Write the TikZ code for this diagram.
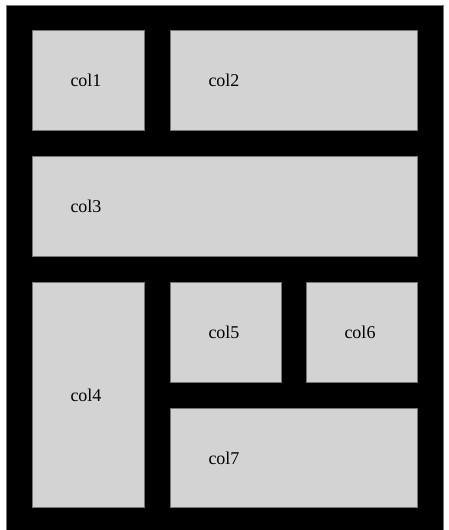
\documentclass[tikz,border=0pt]{standalone}
\usepackage{fontspec}
\setmainfont{Liberation Serif}
\definecolor{cell}{HTML}{D3D3D3}
\definecolor{rim}{HTML}{767676}
\tikzset{cellbox/.style={draw=rim,line width=1pt,fill=cell,inner xsep=38pt,
    inner ysep=0pt,align=left,anchor=north west}}

\begin{document}
\begin{tikzpicture}[x=1pt,y=-1pt,font=\fontsize{18}{20}\selectfont]
  \fill[white] (0,0) rectangle (448,530);
  \useasboundingbox (0,0) rectangle (448,530);
  \draw[draw=rim,line width=1pt,fill=black] (6,5) rectangle (443,534);
  % top row
  \node[cellbox,text width=36pt,minimum height=100pt] (col1) at (32,30) {col1};
  \node[cellbox,text width=171pt,minimum height=100pt] (col2) at (170,30) {col2};
  % middle row
  \node[cellbox,text width=309pt,minimum height=100pt] (col3) at (32,156) {col3};
  % bottom block
  \node[cellbox,text width=36pt,minimum height=225pt] (col4) at (32,282) {col4};
  \node[cellbox,text width=35pt,minimum height=100pt] (col5) at (170,282) {col5};
  \node[cellbox,text width=35pt,minimum height=100pt] (col6) at (306,282) {col6};
  \node[cellbox,text width=171pt,minimum height=99pt] (col7) at (170,408) {col7};
\end{tikzpicture}
\end{document}
